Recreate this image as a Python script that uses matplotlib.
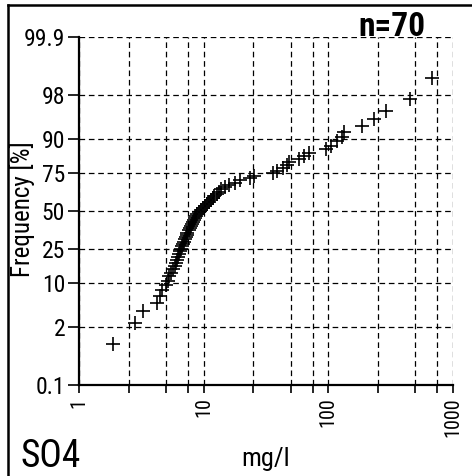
import numpy as np
import matplotlib
matplotlib.use('Agg')
import matplotlib.pyplot as plt
from matplotlib import font_manager
from matplotlib.lines import Line2D
from statistics import NormalDist

# ---- data ----
so4_mgl = [1.87, 2.8, 3.25, 4.2, 4.45, 4.6, 4.97, 5.15, 5.3, 5.5,
           5.65, 5.85, 5.95, 6.1, 6.2, 6.3, 6.4, 6.55, 6.65, 6.8,
           6.9, 7.05, 7.15, 7.3, 7.4, 7.6, 7.7, 7.85, 8.0, 8.15,
           8.3, 8.45, 8.6, 8.9, 9.1, 9.45, 9.8, 10.2, 10.6, 11.0,
           11.4, 11.8, 12.2, 12.7, 13.2, 13.9, 14.7, 16.1, 18.0, 19.4,
           23.4, 25.2, 36.3, 39.1, 42.9, 46.2, 48.8, 58.7, 64.3, 70.4,
           96.3, 105, 118, 129, 134, 187, 233, 291, 453, 679]
freq_pct = [0.89, 2.31, 3.74, 5.16, 6.58, 8.01, 9.43, 10.85, 12.28, 13.70,
            15.13, 16.55, 17.97, 19.40, 20.82, 22.24, 23.67, 25.09, 26.51, 27.94,
            29.36, 30.78, 32.21, 33.63, 35.05, 36.48, 37.90, 39.32, 40.75, 42.17,
            43.59, 45.02, 46.44, 47.86, 49.29, 50.71, 52.14, 53.56, 54.98, 56.41,
            57.83, 59.25, 60.68, 62.10, 63.52, 64.95, 66.37, 67.79, 69.22, 70.64,
            72.06, 73.49, 74.91, 76.34, 77.76, 79.18, 80.61, 82.03, 83.45, 84.88,
            86.30, 87.72, 89.15, 90.57, 91.99, 93.42, 94.84, 96.26, 97.69, 99.11]
y_ticks = [0.1, 2, 10, 25, 50, 75, 90, 98, 99.9]
y_tick_labels = ['0.1', '2', '10', '25', '50', '75', '90', '98', '99.9']
x_ticks = [1, 2.5, 5, 7.5, 10, 25, 50, 75, 100, 250, 500, 750, 1000]
x_tick_labels = ['1', '', '', '', '10', '', '', '', '100', '', '', '', '1000']

# pick a narrow sans font if one is installed
_available = {f.name for f in font_manager.fontManager.ttflist}
_narrow = [n for n in ['Liberation Sans Narrow', 'Arial Narrow', 'Roboto Condensed',
                       'Open Sans Condensed', 'Nimbus Sans Narrow'] if n in _available]
if _narrow:
    FAMILY = [_narrow[0], 'Liberation Sans', 'DejaVu Sans']
    SZ = dict(yt=17, xt=14.5, ylab=18, n=24, so4=27, unit=19)
else:
    FAMILY = ['Liberation Sans', 'DejaVu Sans']
    SZ = dict(yt=14, xt=12.5, ylab=15.5, n=21, so4=23, unit=18)
plt.rcParams['font.family'] = FAMILY

_nd = NormalDist()
_ppf = np.vectorize(_nd.inv_cdf, otypes=[float])
_cdf = np.vectorize(_nd.cdf, otypes=[float])

def _fwd(p):
    p = np.nan_to_num(np.asarray(p, dtype=float), nan=50.0)
    p = np.clip(p, 1e-6, 100 - 1e-6) / 100.0
    return _ppf(p)

def _inv(z):
    z = np.nan_to_num(np.asarray(z, dtype=float), nan=0.0, posinf=40, neginf=-40)
    return _cdf(z) * 100.0

W, H = 472, 476
fig = plt.figure(figsize=(W / 100, H / 100), dpi=100)
fig.patch.set_facecolor('white')

l, r, t, b = 79, 453, 37, 385
ax = fig.add_axes([l / W, 1 - b / H, (r - l) / W, (b - t) / H])
ax.set_xscale('log')
ax.set_yscale('function', functions=(_fwd, _inv))
ax.set_xlim(1, 1000)
ax.set_ylim(0.1, 99.9)

ax.plot(so4_mgl, freq_pct, linestyle='none', marker='+', color='black',
        markersize=10.5, markeredgewidth=1.2, zorder=3, clip_on=False)

ax.set_yticks(y_ticks)
ax.set_yticklabels(y_tick_labels)
ax.set_xticks(x_ticks)
ax.set_xticklabels(x_tick_labels, rotation=90, va='top', ha='center')
ax.minorticks_off()
ax.tick_params(axis='y', direction='out', length=8, width=1.2, pad=2,
               labelsize=SZ['yt'], colors='black')
ax.tick_params(axis='x', direction='out', length=6, width=1.2, pad=3,
               labelsize=SZ['xt'], colors='black')

ax.grid(True, which='major', color='black', linestyle=(0, (4.5, 3)), linewidth=0.9)
for s in ['top', 'right']:
    ax.spines[s].set_visible(False)
for s in ['left', 'bottom']:
    ax.spines[s].set_linewidth(1.6)

fig.text(22 / W, 1 - 209 / H, 'Frequency [%]', rotation=90, ha='center', va='center',
         fontsize=SZ['ylab'])
fig.text(392 / W, 1 - 27 / H, 'n=70', ha='center', va='center', fontsize=SZ['n'],
         fontweight='bold')
fig.text(20 / W, 1 - 467 / H, 'SO4', ha='left', va='baseline', fontsize=SZ['so4'])
fig.text(266 / W, 1 - 466 / H, 'mg/l', ha='center', va='baseline', fontsize=SZ['unit'])

# outer frame (left and top edges)
fig.add_artist(Line2D([8 / W, 8 / W], [0, 1 - 5 / H], transform=fig.transFigure,
                      color='black', linewidth=1.8))
fig.add_artist(Line2D([8 / W, 1], [1 - 5 / H, 1 - 5 / H], transform=fig.transFigure,
                      color='black', linewidth=1.8))

fig.savefig('out.png', dpi=100)
